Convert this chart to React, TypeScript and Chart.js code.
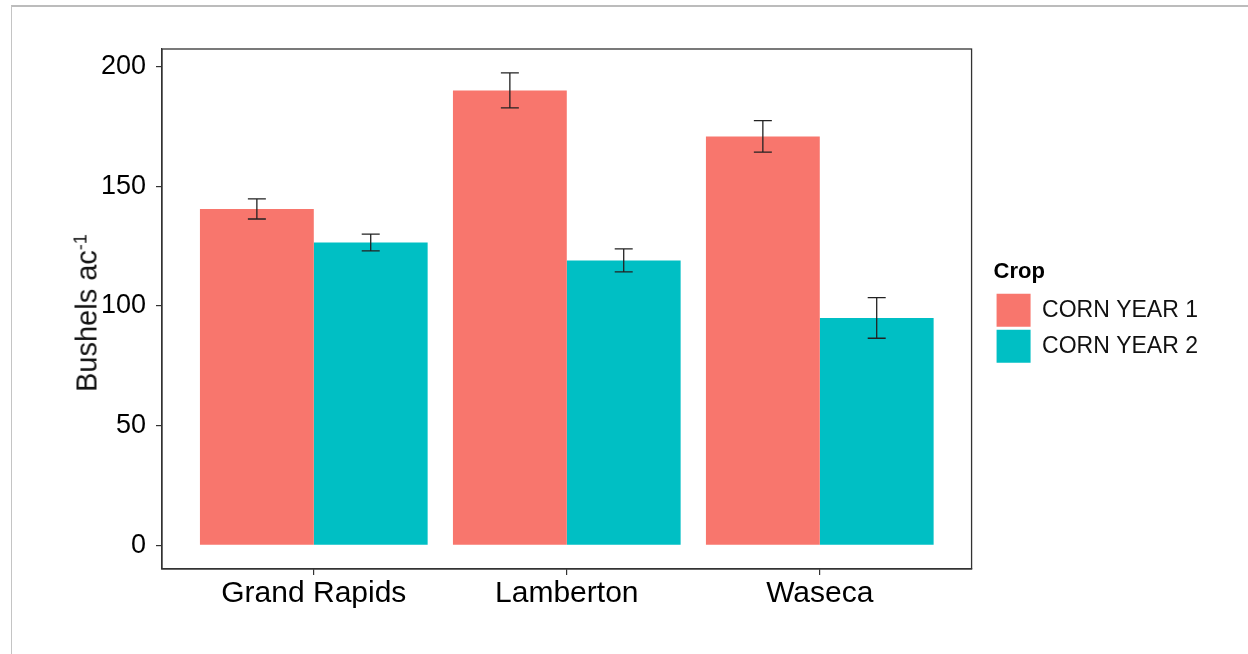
import { useEffect, useRef } from "react";
import { Chart, registerables } from "chart.js";

Chart.register(...registerables);

// Mean corn yield (bu/ac) and standard error per site
const sites = ["Grand Rapids", "Lamberton", "Waseca"];
const seriesNames = ["CORN YEAR 1", "CORN YEAR 2"];
const year1Yield = [140.5, 190.0, 170.8];
const year1Err = [4.2, 7.3, 6.6];
const year2Yield = [126.5, 119.0, 95.0];
const year2Err = [3.5, 4.8, 8.5];
const yTicks = [0, 50, 100, 150, 200];

const seriesColors = ["#F8766D", "#00BFC4"];
const FONT = "'Liberation Sans', Arial, Helvetica, sans-serif";

// Outline around the plotting panel
const panelBorder = {
  id: "panelBorder",
  afterDraw(chart: any) {
    const { ctx, chartArea: a } = chart;
    ctx.save();
    ctx.strokeStyle = "#333333";
    ctx.lineWidth = 1.3;
    ctx.strokeRect(a.left, a.top, a.right - a.left, a.bottom - a.top);
    ctx.restore();
  },
};

// Leave a gap between the panel and the legend
const legendGap = {
  id: "legendGap",
  afterLayout(chart: any) {
    const lg = chart.legend;
    if (!lg) return;
    const w = lg.width;
    lg.left = chart.chartArea.right + 22;
    lg.right = lg.left + w;
    lg.top += 3;
    lg.bottom += 3;
  },
};

// Whiskers (mean ± error) on top of each bar
const errorBars = {
  id: "errorBars",
  afterDatasetsDraw(chart: any) {
    const { ctx } = chart;
    const yScale = chart.scales.y;
    ctx.save();
    ctx.strokeStyle = "#222222";
    ctx.lineWidth = 1.3;
    chart.data.datasets.forEach((ds: any, i: number) => {
      const meta = chart.getDatasetMeta(i);
      meta.data.forEach((bar: any, j: number) => {
        const v = ds.data[j].y;
        const e = ds.errors[j];
        const top = yScale.getPixelForValue(v + e);
        const bot = yScale.getPixelForValue(v - e);
        const x = bar.x;
        const cap = 9;
        ctx.beginPath();
        ctx.moveTo(x, top);
        ctx.lineTo(x, bot);
        ctx.moveTo(x - cap, top);
        ctx.lineTo(x + cap, top);
        ctx.moveTo(x - cap, bot);
        ctx.lineTo(x + cap, bot);
        ctx.stroke();
      });
    });
    ctx.restore();
  },
};

export default function App() {
  const ref = useRef<HTMLCanvasElement>(null);

  useEffect(() => {
    const chart = new Chart(ref.current as HTMLCanvasElement, {
      type: "bar",
      data: {
        datasets: [
          {
            label: seriesNames[0],
            data: year1Yield.map((v, i) => ({ x: i + 1, y: v })),
            errors: year1Err,
            backgroundColor: seriesColors[0],
            borderWidth: 0,
            categoryPercentage: 0.9,
            barPercentage: 1,
          } as any,
          {
            label: seriesNames[1],
            data: year2Yield.map((v, i) => ({ x: i + 1, y: v })),
            errors: year2Err,
            backgroundColor: seriesColors[1],
            borderWidth: 0,
            categoryPercentage: 0.9,
            barPercentage: 1,
          } as any,
        ],
      },
      options: {
        responsive: false,
        animation: false,
        layout: { padding: { top: 49, left: 0, bottom: 0, right: 62 } },
        scales: {
          x: {
            type: "linear",
            min: 0.4,
            max: 3.6,
            offset: false,
            afterBuildTicks: (s: any) => {
              s.ticks = sites.map((_, i) => ({ value: i + 1 }));
            },
            afterFit: (s: any) => {
              s.height = 85;
            },
            grid: {
              display: true,
              offset: false,
              drawOnChartArea: false,
              drawTicks: true,
              tickLength: 6,
              color: "#333333",
              lineWidth: 1.2,
            },
            border: { display: true, color: "#333333", width: 1.2 },
            ticks: {
              callback: (v: any) => sites[Math.round(Number(v)) - 1] ?? "",
              color: "#000000",
              font: { family: FONT, size: 30, lineHeight: 1 },
              padding: 4,
              maxRotation: 0,
              autoSkip: false,
            },
          } as any,
          y: {
            type: "linear",
            min: -9.87,
            max: 207.3,
            afterBuildTicks: (s: any) => {
              s.ticks = yTicks.map((v) => ({ value: v }));
            },
            afterFit: (s: any) => {
              s.width = 162;
            },
            grid: {
              display: true,
              drawOnChartArea: false,
              drawTicks: true,
              tickLength: 6,
              color: "#333333",
              lineWidth: 1.2,
            },
            border: { display: true, color: "#333333", width: 1.2 },
            ticks: {
              color: "#000000",
              font: { family: FONT, size: 27 },
              padding: 10,
            },
          } as any,
        },
        plugins: {
          tooltip: { enabled: false },
          legend: {
            position: "right",
            align: "center",
            fullSize: false,
            title: {
              display: true,
              text: "Crop",
              position: "start",
              color: "#000000",
              font: { family: FONT, size: 22, weight: "bold" },
              padding: { top: 3, bottom: 3 },
            },
            labels: {
              boxWidth: 34,
              boxHeight: 33,
              padding: 3,
              color: "#111111",
              font: { family: FONT, size: 23 },
            },
          } as any,
        },
      },
      plugins: [errorBars, panelBorder, legendGap],
    });
    return () => chart.destroy();
  }, []);

  return (
    <div
      style={{
        position: "absolute",
        left: 0,
        top: 0,
        width: 1248,
        height: 654,
        overflow: "hidden",
        background: "#ffffff",
      }}
    >
      <div
        style={{
          position: "absolute",
          left: 11,
          top: 5,
          width: 1300,
          height: 700,
          borderTop: "2px solid #bcbcbc",
          borderLeft: "1px solid #c4c4c4",
        }}
      />
      <canvas
        ref={ref}
        width={1248}
        height={654}
        style={{ position: "absolute", left: 0, top: 0 }}
      />
      <div
        style={{
          position: "absolute",
          left: 86.5,
          top: 312.5,
          transform: "translate(-50%, -50%) rotate(-90deg)",
          fontFamily: FONT,
          fontSize: 29,
          lineHeight: 1,
          whiteSpace: "nowrap",
          color: "#111111",
        }}
      >
        Bushels ac
        <span style={{ fontSize: 18, position: "relative", top: -10 }}>-1</span>
      </div>
    </div>
  );
}
